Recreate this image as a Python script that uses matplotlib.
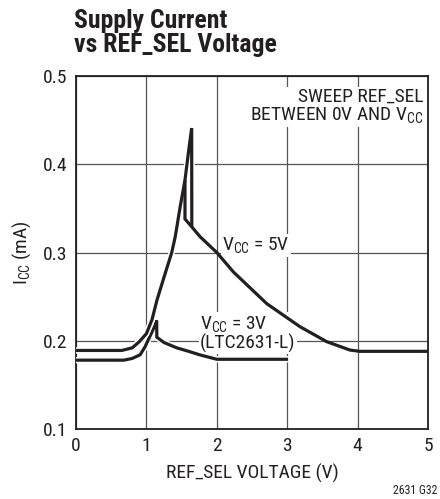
import matplotlib
matplotlib.use('Agg')
import matplotlib.pyplot as plt
import matplotlib.patheffects as pe

plt.rcParams['font.family'] = ['Roboto Condensed', 'Liberation Sans', 'DejaVu Sans']
plt.rcParams['mathtext.fontset'] = 'custom'
plt.rcParams['mathtext.rm'] = 'Roboto Condensed'
plt.rcParams['mathtext.it'] = 'Roboto Condensed'

# VCC = 5V, sweep up (rise to peak and snap down)
x5_up = [0, 0.65, 0.8, 0.9, 1.0, 1.08, 1.15, 1.25, 1.36, 1.41, 1.48, 1.548, 1.595, 1.643, 1.645]
y5_up = [0.189, 0.189, 0.192, 0.199, 0.208, 0.224, 0.246, 0.272, 0.30, 0.318, 0.352, 0.382, 0.412, 0.441, 0.331]
# VCC = 5V, notch and decay
x5_dn = [1.548, 1.548, 1.645, 1.761, 2.0, 2.235, 2.71, 3.18, 3.56, 3.89, 4.03, 5.0]
y5_dn = [0.380, 0.338, 0.329, 0.318, 0.30, 0.278, 0.242, 0.216, 0.199, 0.1895, 0.188, 0.188]
# VCC = 3V (LTC2631-L)
x3 = [0, 0.68, 0.8, 0.91, 0.98, 1.05, 1.12, 1.146, 1.148, 1.25, 1.43, 1.6, 1.76, 2.0, 2.99]
y3 = [0.178, 0.178, 0.18, 0.184, 0.193, 0.205, 0.217, 0.223, 0.204, 0.198, 0.192, 0.188, 0.184, 0.179, 0.179]

xticks = [0, 1, 2, 3, 4, 5]
yticks = [0.1, 0.2, 0.3, 0.4, 0.5]

fig = plt.figure(figsize=(4.4, 4.99), dpi=100)
ax = fig.add_axes([76/440, 1-429/499, 352/440, 353/499])

ax.set_xlim(0, 5)
ax.set_ylim(0.1, 0.5)
ax.set_xticks(xticks)
ax.set_yticks(yticks)
ax.set_xticklabels([str(t) for t in xticks])
ax.set_yticklabels(['%.1f' % t for t in yticks])
ax.tick_params(length=0, labelsize=14, pad=6, colors='#231f20')
ax.grid(True, color='#555555', lw=0.9)
ax.set_axisbelow(True)
for s in ax.spines.values():
    s.set_linewidth(1.3)
    s.set_color('#231f20')

outline = [pe.Stroke(linewidth=4.5, foreground='white'), pe.Normal()]
plain = [pe.Normal()]
ax.plot(x3, y3, color='#231f20', lw=2.3, solid_joinstyle='miter', path_effects=outline, zorder=3)
ax.plot(x5_up, y5_up, color='#231f20', lw=2.3, solid_joinstyle='miter', path_effects=outline, zorder=3)
ax.plot(x5_dn, y5_dn, color='#231f20', lw=2.3, solid_joinstyle='miter', path_effects=plain, zorder=3)

box = dict(facecolor='white', edgecolor='none', pad=1)
ax.text(2.56, 0.308, r'V$_{\mathrm{CC}}$ = 5V', fontsize=14, ha='center', va='center',
        color='#231f20', bbox=box, zorder=2)
ax.text(1.76, 0.208, 'V$_{\\mathrm{CC}}$ = 3V\n(LTC2631-L)', fontsize=14, ha='left', va='center',
        color='#231f20', linespacing=0.95, bbox=box, zorder=2)
ax.text(4.93, 0.487, 'SWEEP REF_SEL\nBETWEEN 0V AND V$_{\\mathrm{CC}}$', fontsize=14, ha='right', va='top',
        color='#231f20', linespacing=1.0, multialignment='right', bbox=box, zorder=2)

ax.set_xlabel('REF_SEL VOLTAGE (V)', fontsize=14, color='#231f20', labelpad=6)
ax.set_ylabel('I$_{\\mathrm{CC}}$ (mA)', fontsize=14, color='#231f20', labelpad=7)

fig.text(74/440, 1-9/499, 'Supply Current\nvs REF_SEL Voltage', fontsize=18.5, fontweight='bold',
         ha='left', va='top', color='#231f20', linespacing=1.02)
fig.text(437/440, 1-497/499, '2631 G32', fontsize=8.5, ha='right', va='bottom', color='#231f20')

fig.savefig('out.png', dpi=100)
